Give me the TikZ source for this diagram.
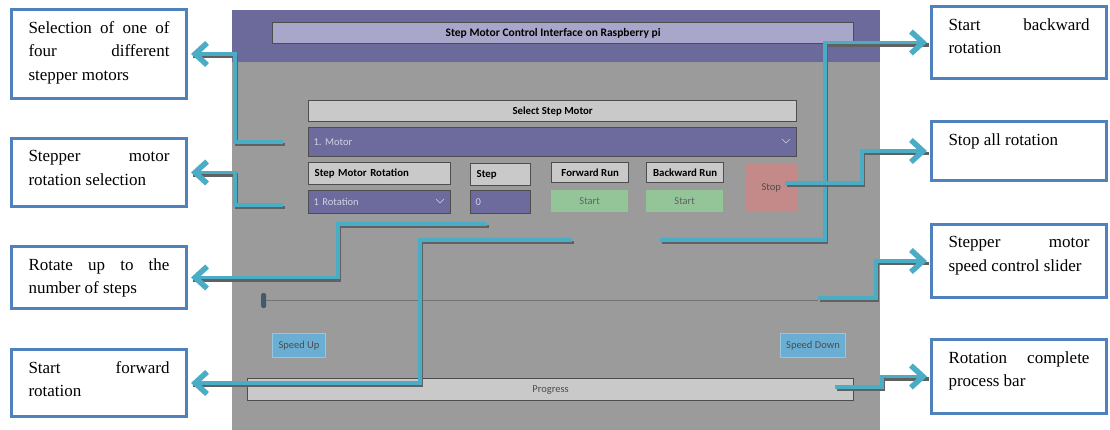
\documentclass[tikz,border=0pt]{standalone}
\usepackage{fontspec}
\setmainfont{Liberation Serif}
\newfontfamily\uifont{Carlito}
\usetikzlibrary{arrows.meta}
\definecolor{wingray}{HTML}{9B9B9B}
\definecolor{headpurple}{HTML}{6B6A9A}
\definecolor{titlepurple}{HTML}{A9A7C9}
\definecolor{lblgray}{HTML}{C9C9C9}
\definecolor{ddpurple}{HTML}{6D6B9D}
\definecolor{ddtext}{HTML}{D2D2E2}
\definecolor{startgreen}{HTML}{94C598}
\definecolor{stopred}{HTML}{C48A8A}
\definecolor{speedblue}{HTML}{6AAFD3}
\definecolor{thumbblue}{HTML}{3F5B6D}
\definecolor{framegray}{HTML}{4D4D4D}
\definecolor{callblue}{HTML}{4F81BD}
\definecolor{aqua}{HTML}{4BACC6}
\newcommand{\calltext}[2]{\parbox[c][#1][t]{141pt}{\fontsize{17}{23.5}\selectfont #2}}
\newcommand{\connect}[1]{\draw[connshadow] #1; \draw[conn] #1;}
\begin{document}
\begin{tikzpicture}[x=1pt, y=-1pt, line join=miter,
	uibox/.style={anchor=north west, inner sep=0pt, font=\uifont\fontsize{10.5}{12}\selectfont},
	lblbox/.style={uibox, draw=framegray, line width=1.3pt, fill=lblgray, font=\uifont\bfseries\fontsize{10.8}{12}\selectfont},
	ddbox/.style={uibox, draw=framegray, line width=1.3pt, fill=ddpurple, text=ddtext, inner xsep=5pt, align=left},
	startbtn/.style={uibox, fill=startgreen, text=black!62, minimum width=77pt, minimum height=22pt},
	speedbtn/.style={uibox, draw=speedblue!70!white, line width=1pt, fill=speedblue, text=black!70, minimum height=24pt},
	callout/.style={anchor=north west, draw=callblue, line width=3pt, fill=white, inner xsep=17pt, inner ysep=12pt},
	connshadow/.style={draw=black!62, line width=3.5pt, transform canvas={shift={(1.5pt,-2.5pt)}}},
	conn/.style={draw=aqua, line width=3.5pt, -{Straight Barb[length=12pt,width=22pt,line width=5.5pt]}}]
	\useasboundingbox (0,0) rectangle (1110,430);
	\fill[wingray] (232,10) rectangle (880,430);
	\fill[headpurple] (232,10) rectangle (880,62);
	\node[lblbox, fill=titlepurple, minimum width=581pt, minimum height=21pt, font=\uifont\bfseries\fontsize{11.5}{13}\selectfont] (title) at (272,22) {Step Motor Control Interface on Raspberry pi\hspace*{20pt}};
	\node[lblbox, minimum width=488pt, minimum height=21pt] (selectlbl) at (308,100) {Select Step Motor};
	\node[ddbox, text width=478pt, minimum height=29pt] (motordd) at (308,127) {1.\ Motor};
	\draw[ddtext, line width=0.6pt] (782,139) -- (786,143) -- (790,139);
	\node[lblbox, inner xsep=6pt, text width=130pt, align=left, minimum height=22pt] (rotlbl) at (308,162) {Step Motor Rotation};
	\node[lblbox, inner xsep=6pt, text width=48pt, align=left, minimum height=22pt] (steplbl) at (470,163) {Step};
	\node[lblbox, minimum width=77pt, minimum height=20pt] (fwdlbl) at (551,162) {Forward Run};
	\node[lblbox, minimum width=77pt, minimum height=20pt] (bwdlbl) at (646,162) {Backward Run};
	\node[uibox, fill=stopred, text=black!70, minimum width=52pt, minimum height=49pt] (stopbtn) at (745,163) {Stop};
	\node[ddbox, text width=132pt, minimum height=23pt] (rotdd) at (308,190) {1 Rotation};
	\draw[ddtext, line width=0.6pt] (436,199) -- (440,203) -- (444,199);
	\node[ddbox, text width=50pt, minimum height=23pt] (stepin) at (470,190) {0};
	\node[startbtn] (fwdstart) at (551,190) {Start};
	\node[startbtn] (bwdstart) at (646,190) {Start};
	\draw[black!55, line width=1pt] (264,300) -- (818,300);
	\fill[thumbblue, rounded corners=1.5pt] (261,293) rectangle (266,308);
	\node[speedbtn, minimum width=53pt] (speedup) at (272,333) {Speed Up};
	\node[speedbtn, minimum width=65pt] (speeddown) at (780,333) {Speed Down};
	\node[uibox, draw=framegray, line width=1.3pt, fill=lblgray, text=black!70, minimum width=606pt, minimum height=22pt] (progress) at (247,378) {Progress};
	\node[callout] (selbox) at (10,8) {\calltext{65pt}{Selection of one of\linebreak four different\linebreak stepper motors}};
	\node[callout] (rotbox) at (10,137) {\calltext{44pt}{Stepper motor\linebreak rotation selection}};
	\node[callout] (stepsbox) at (10,245) {\calltext{38pt}{Rotate up to the\linebreak number of steps}};
	\node[callout] (fwdbox) at (10,348) {\calltext{43pt}{Start forward\linebreak rotation}};
	\node[callout] (bwdbox) at (930,5) {\calltext{48pt}{Start backward\linebreak rotation}};
	\node[callout] (stopbox) at (930,120) {\calltext{35pt}{Stop all rotation}};
	\node[callout] (sliderbox) at (930,223) {\calltext{49pt}{Stepper motor\linebreak speed control slider}};
	\node[callout] (progbox) at (930,338) {\calltext{50pt}{Rotation complete\linebreak process bar}};
	\coordinate (selfree) at (283,142);
	\coordinate (rotfree) at (283,205);
	\coordinate (stepsfree) at (487,224);
	\coordinate (fwdfree) at (572,240);
	\coordinate (bwdfree) at (660,240);
	\coordinate (stopfree) at (785,183);
	\coordinate (sliderfree) at (818,298);
	\coordinate (progfree) at (835,387);
	\connect{(selfree) -| ([xshift=47pt]selbox.east) -- ([xshift=3pt]selbox.east)}
	\connect{(rotfree) -| ([xshift=47pt]rotbox.east) -- ([xshift=3pt]rotbox.east)}
	\connect{(stepsfree) -| ([xshift=150pt]stepsbox.east) -- ([xshift=3pt]stepsbox.east)}
	\connect{(fwdfree) -| ([xshift=232pt]fwdbox.east) -- ([xshift=3pt]fwdbox.east)}
	\connect{(bwdfree) -| ([xshift=-105pt]bwdbox.west) -- ([xshift=-3pt]bwdbox.west)}
	\connect{(stopfree) -| ([xshift=-68pt]stopbox.west) -- ([xshift=-3pt]stopbox.west)}
	\connect{(sliderfree) -| ([xshift=-54pt]sliderbox.west) -- ([xshift=-3pt]sliderbox.west)}
	\connect{(progfree) -| ([xshift=-48pt]progbox.west) -- ([xshift=-3pt]progbox.west)}
\end{tikzpicture}
\end{document}
